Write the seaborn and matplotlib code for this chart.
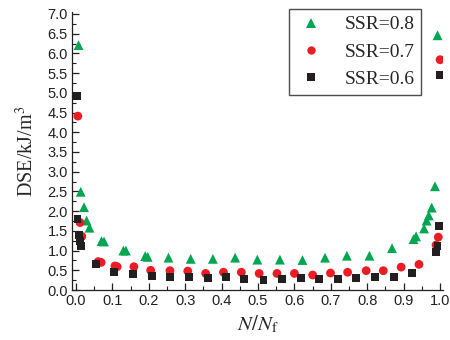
import numpy as np
import pandas as pd
import matplotlib
matplotlib.use("Agg")
import matplotlib.pyplot as plt
import seaborn as sns
from matplotlib.ticker import MultipleLocator
from matplotlib.lines import Line2D

# ---- data ----
green_x = [0.007, 0.013, 0.022, 0.029, 0.037, 0.070, 0.077, 0.130, 0.137, 0.190, 0.197,
           0.254, 0.315, 0.376, 0.437, 0.498, 0.560, 0.622, 0.684, 0.744, 0.806, 0.868,
           0.927, 0.934, 0.956, 0.963, 0.969, 0.977, 0.986, 0.993]
green_y = [6.21, 2.49, 2.10, 1.76, 1.58, 1.24, 1.23, 1.00, 1.00, 0.86, 0.84,
           0.82, 0.79, 0.79, 0.82, 0.77, 0.77, 0.76, 0.82, 0.87, 0.87, 1.06,
           1.29, 1.36, 1.56, 1.76, 1.89, 2.09, 2.63, 6.46]

red_x = [0.005, 0.011, 0.016, 0.061, 0.069, 0.107, 0.113, 0.159, 0.205, 0.258, 0.307,
         0.356, 0.405, 0.454, 0.503, 0.552, 0.600, 0.650, 0.699, 0.746, 0.797, 0.844,
         0.893, 0.942, 0.989, 0.995, 1.000]
red_y = [4.41, 1.71, 1.36, 0.72, 0.70, 0.61, 0.59, 0.59, 0.50, 0.49, 0.48,
         0.42, 0.45, 0.45, 0.42, 0.42, 0.42, 0.38, 0.43, 0.45, 0.49, 0.49,
         0.58, 0.65, 1.14, 1.34, 5.84]

black_x = [0.002, 0.004, 0.008, 0.011, 0.013, 0.055, 0.105, 0.157, 0.208, 0.258, 0.310,
           0.362, 0.412, 0.462, 0.515, 0.566, 0.617, 0.668, 0.719, 0.770, 0.821, 0.873,
           0.924, 0.989, 0.993, 0.997, 1.000]
black_y = [4.93, 1.79, 1.40, 1.25, 1.12, 0.65, 0.45, 0.40, 0.36, 0.32, 0.33,
           0.31, 0.33, 0.28, 0.25, 0.27, 0.30, 0.27, 0.27, 0.30, 0.32, 0.34,
           0.44, 0.96, 1.12, 1.63, 5.45]

labels = ["SSR=0.8", "SSR=0.7", "SSR=0.6"]
xticks = [0.0, 0.1, 0.2, 0.3, 0.4, 0.5, 0.6, 0.7, 0.8, 0.9, 1.0]
yticks = [0.0, 0.5, 1.0, 1.5, 2.0, 2.5, 3.0, 3.5, 4.0, 4.5, 5.0, 5.5, 6.0, 6.5, 7.0]

# ---- style ----
sns.set_theme(style="ticks")
plt.rcParams['font.family'] = ['Liberation Sans', 'DejaVu Sans']
plt.rcParams['mathtext.fontset'] = 'stix'

fig = plt.figure(figsize=(4.5, 3.4), dpi=100)
ax = fig.add_axes([72/450, 1-290/340, (443-72)/450, (290-12)/340])

series = [
    (green_x, green_y, labels[0], "#00a651", "^", 50),
    (red_x, red_y, labels[1], "#ed1c24", "o", 40),
    (black_x, black_y, labels[2], "#231f20", "s", 32),
]
for xs, ys, lab, col, mk, s in series:
    df = pd.DataFrame({"x": xs, "y": ys})
    sns.scatterplot(data=df, x="x", y="y", ax=ax, color=col, marker=mk, s=s,
                    edgecolor="none", linewidth=0, label=lab, legend=False)

ax.set_xlim(-0.011, 1.008)
ax.set_ylim(0, 7.05)
ax.set_xticks(xticks)
ax.set_yticks(yticks)
ax.set_xticklabels([f"{v:.1f}" for v in xticks])
ax.set_yticklabels([f"{v:.1f}" for v in yticks])
ax.xaxis.set_minor_locator(MultipleLocator(0.05))
ax.yaxis.set_minor_locator(MultipleLocator(0.25))
ax.tick_params(which='major', direction='in', length=5, width=0.9, labelsize=10.5,
               colors='#231f20', pad=3)
ax.tick_params(which='minor', direction='in', length=3, width=0.8, colors='#231f20')
for sp in ['top', 'right']:
    ax.spines[sp].set_visible(False)
for sp in ['left', 'bottom']:
    ax.spines[sp].set_color('#231f20')
    ax.spines[sp].set_linewidth(0.9)

ax.set_xlabel(r'$N/N_{\mathrm{f}}$', fontsize=15, family='Liberation Serif', labelpad=4)
ax.set_ylabel(r'DSE/kJ/m$^3$', fontsize=14.5, family='Liberation Serif', labelpad=7)

handles = [Line2D([], [], linestyle='none', marker=mk, color=col,
                  markersize=6.5 if mk == '^' else 6 if mk == 'o' else 5.2,
                  markeredgewidth=0)
           for _, _, _, col, mk, _ in series]
leg = ax.legend(handles, labels, loc='upper left',
                bbox_to_anchor=(289/450, 1-9/340), bbox_transform=fig.transFigure,
                prop={'family': 'Liberation Serif', 'size': 14},
                frameon=True, fancybox=False, edgecolor='#231f20',
                borderpad=0.35, labelspacing=0.5, handletextpad=0.9, handlelength=1.6,
                borderaxespad=0)
leg.get_frame().set_linewidth(1.0)

fig.savefig("out.png", dpi=100)
